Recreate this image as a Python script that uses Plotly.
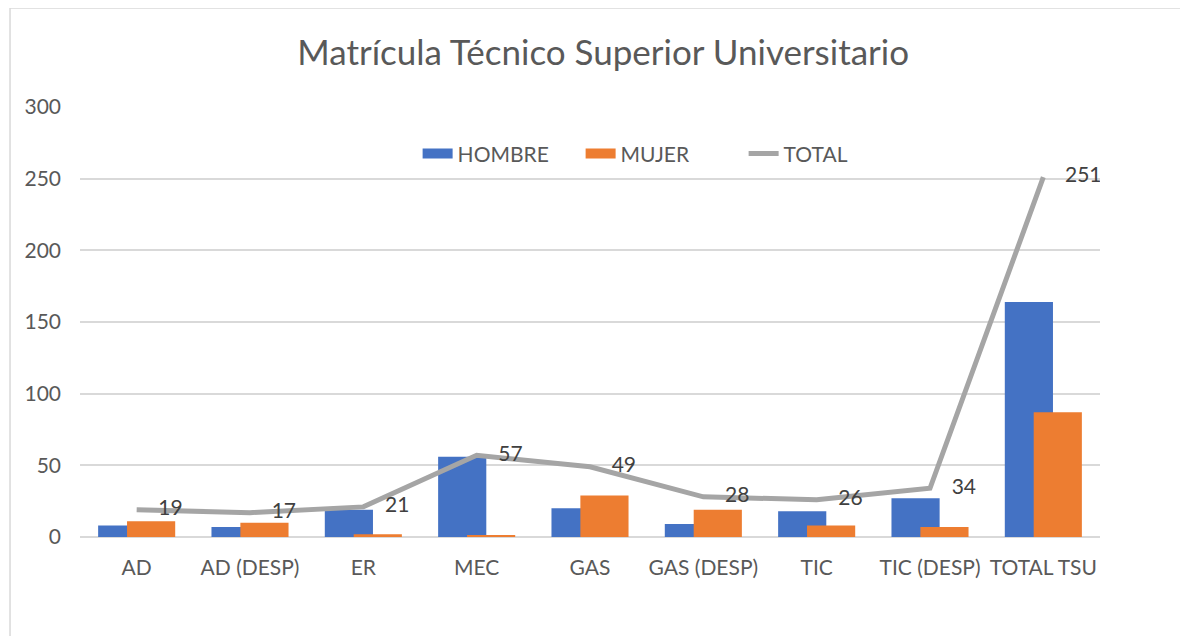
import plotly.graph_objects as go

categories = ["AD", "AD (DESP)", "ER", "MEC", "GAS", "GAS (DESP)", "TIC", "TIC (DESP)", "TOTAL TSU"]
hombre = [8, 7, 19, 56, 20, 9, 18, 27, 164]
mujer = [11, 10, 2, 1, 29, 19, 8, 7, 87]
total = [19, 17, 21, 57, 49, 28, 26, 34, 251]
y_ticks = [0, 50, 100, 150, 200, 250, 300]

FONT = "Lato"
BLUE, ORANGE, GRAY = "#4472C4", "#ED7D31", "#A5A5A5"
fig = go.Figure()
fig.add_trace(go.Bar(
    x=categories, y=hombre, name="HOMBRE", marker=dict(color=BLUE, line=dict(width=0)),
    width=0.425, offset=-0.34, legendgroup="h", showlegend=False,
))
fig.add_trace(go.Bar(
    x=categories, y=mujer, name="MUJER", marker=dict(color=ORANGE, line=dict(width=0)),
    width=0.425, offset=-0.085, legendgroup="m", showlegend=False,
))
fig.add_trace(go.Scatter(
    x=categories, y=total, name="TOTAL", mode="lines+markers+text",
    line=dict(color=GRAY, width=5),
    marker=dict(size=33, color="rgba(0,0,0,0)"),
    text=[str(v) for v in total], textposition="middle right",
    textfont=dict(size=21, color="#404040", family=FONT),
    legendgroup="t", showlegend=False,
))
# legend entries
fig.add_trace(go.Scatter(x=[None], y=[None], mode="lines", name="HOMBRE",
                         line=dict(color=BLUE, width=14), legendgroup="h"))
fig.add_trace(go.Scatter(x=[None], y=[None], mode="lines", name="MUJER",
                         line=dict(color=ORANGE, width=14), legendgroup="m"))
fig.add_trace(go.Scatter(x=[None], y=[None], mode="lines", name="TOTAL",
                         line=dict(color=GRAY, width=5), legendgroup="t"))

fig.update_layout(
    width=1188, height=636,
    paper_bgcolor="white", plot_bgcolor="white",
    barmode="overlay",
    margin=dict(l=72, r=96, t=99, b=107),
    title=dict(text="Matrícula Técnico Superior Universitario", x=0.501, xanchor="center",
               y=0.929, yanchor="middle",
               font=dict(size=35, color="#595959", family=FONT)),
    legend=dict(orientation="h", x=0.331, xanchor="left", y=0.891, yanchor="middle",
                font=dict(size=21, color="#595959", family=FONT), bgcolor="rgba(0,0,0,0)",
                traceorder="normal", entrywidth=118, entrywidthmode="pixels"),
    showlegend=True,
    xaxis=dict(range=[-0.5, len(categories) - 0.5], showgrid=False,
               tickfont=dict(size=21, color="#595959", family=FONT),
               showline=False, ticks="", ticklabelstandoff=16),
    yaxis=dict(range=[0, 300], tickvals=y_ticks, showgrid=True, gridcolor="#D9D9D9", gridwidth=1.5,
               zeroline=True, zerolinecolor="#D9D9D9", zerolinewidth=1.5,
               tickfont=dict(size=21, color="#595959", family=FONT), ticklabelstandoff=18),
    shapes=[dict(type="rect", xref="paper", yref="paper", x0=-0.0686, x1=1.3, y0=-0.5, y1=1.2302,
                 line=dict(color="#D9D9D9", width=1.5), layer="below")],
)

fig.write_html("out.html")
